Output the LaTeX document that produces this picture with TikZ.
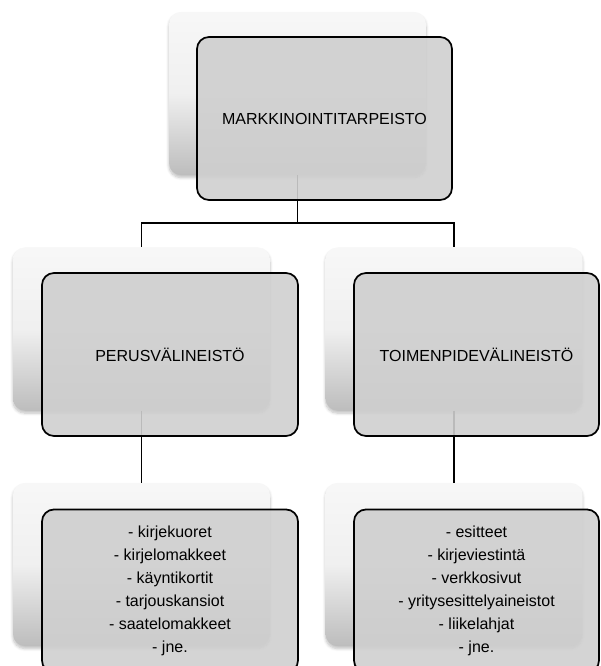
\documentclass[tikz,border=0pt]{standalone}
\usepackage{fontspec}
\setmainfont{Liberation Sans}
\usetikzlibrary{positioning, shadows.blur}
\tikzset{x=0.75pt, y=-0.75pt,
node distance=176.6pt, % Vertical distance between two levels
back/.style={ % Light card lying behind each box
rounded corners=9pt,
minimum width=192.75pt, minimum height=122.25pt,
top color=black!3, bottom color=black!26, middle color=black!6,
blur shadow={shadow xshift=0pt, shadow yshift=-2pt, shadow opacity=25, shadow blur steps=6}},
front/.style={ % Grey box that carries the text
draw, line width=1.3pt, rounded corners=9pt,
fill=black!19, fill opacity=0.9, text opacity=1,
minimum height=122.25pt, align=center, text=black,
font=\fontsize{12}{17.25}\selectfont},
link/.style={draw, line width=1.3pt}}

\begin{document}
\begin{tikzpicture}
    \useasboundingbox (0,0) rectangle (600,666);

    \node[back] (b0) at (297.5,93.5) {};
    \node[back] (b1) at (141.5,329) {};
    \node[back] (b2) at (454,329) {};
    \node[back, below of=b1] (b3) {};
    \node[back, below of=b2] (b4) {};

    \draw[link] (b0.south) -- ++(0,48) -| (b1.north);
    \draw[link] (b0.south) -- ++(0,48) -| (b2.north);
    \draw[link] (b1) -- (b3);
    \draw[link] (b2) -- (b4);

    \node[front, minimum width=191.25pt] (f0) at ([shift={(27,25)}]b0) {MARKKINOINTITARPEISTO};
    \node[front, minimum width=192pt] (f1) at ([shift={(28.5,25.5)}]b1) {PERUSVÄLINEISTÖ};
    \node[front, minimum width=183.75pt] (f2) at ([shift={(22.5,25.5)}]b2) {TOIMENPIDEVÄLINEISTÖ};
    \node[front, minimum width=192pt] (f3) at ([shift={(28.5,26.5)}]b3)
        {- kirjekuoret\\- kirjelomakkeet\\- käyntikortit\\- tarjouskansiot\\- saatelomakkeet\\- jne.};
    \node[front, minimum width=183.75pt] (f4) at ([shift={(22.5,26.5)}]b4)
        {- esitteet\\- kirjeviestintä\\- verkkosivut\\- yritysesittelyaineistot\\- liikelahjat\\- jne.};

\end{tikzpicture}
\end{document}
